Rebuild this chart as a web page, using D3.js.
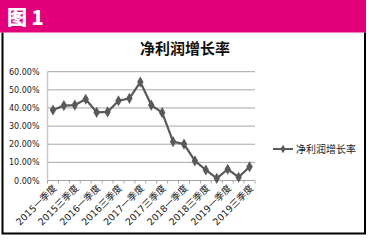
<!DOCTYPE html>
<html>
<head>
<meta charset="utf-8">
<script src="https://cdn.jsdelivr.net/npm/d3@7"></script>
<style>
  body { margin: 0; background: #fff; }
  svg { display: block; }
</style>
</head>
<body>
<div id="chart"></div>
<script>
// ---------------------------------------------------------
// DATA
// ---------------------------------------------------------
const years = ["2015", "2016", "2017", "2018", "2019"];
const quarters = ["一季度", "二季度", "三季度", "四季度"];
const categories = [];
years.forEach(y => quarters.forEach(q => categories.push(y + q)));
categories.length = 19;   // ends at 2019三季度

const growth = [38.9, 41.3, 41.6, 44.8, 37.6, 37.8, 44.0, 45.3, 54.3, 41.6,
                37.4, 21.4, 20.1, 10.8, 5.8, 1.2, 6.2, 1.8, 7.6];
const yTicks = [0, 10, 20, 30, 40, 50, 60];
const seriesName = "净利润增长率";

// ---------------------------------------------------------
// LAYOUT
// ---------------------------------------------------------
const width = 369, height = 240;
const plot = { left: 47.5, right: 255, top: 71.7, bottom: 180.5 };
const font = "'DejaVu Sans', 'Noto Sans CJK SC', sans-serif";
const cjk = "'Noto Sans CJK SC', sans-serif";

const svg = d3.select("#chart").append("svg")
    .attr("width", width)
    .attr("height", height);

// header bar
svg.append("rect")
    .attr("x", 0).attr("y", 0)
    .attr("width", 366).attr("height", 32.5)
    .attr("fill", "#e2007a");

svg.append("text")
    .attr("x", 7).attr("y", 25)
    .attr("fill", "#fff")
    .style("font-family", cjk)
    .style("font-weight", "900")
    .style("font-size", "20px")
    .text("图 1");

// frame
svg.append("path")
    .attr("d", "M2.5,32.5 V233.5 H365 V32.5")
    .attr("fill", "none")
    .attr("stroke", "#000")
    .attr("stroke-width", 2);

// title
svg.append("text")
    .attr("x", 185).attr("y", 54)
    .attr("text-anchor", "middle")
    .attr("fill", "#111")
    .style("font-family", cjk)
    .style("font-weight", "700")
    .style("font-size", "15px")
    .text(seriesName);

// ---------------------------------------------------------
// SCALES
// ---------------------------------------------------------
const x = d3.scaleBand()
    .domain(categories)
    .range([plot.left, plot.right]);

const y = d3.scaleLinear()
    .domain([0, 60])
    .range([plot.bottom, plot.top]);

// gridlines
svg.append("g")
    .selectAll("line")
    .data(yTicks.filter(d => d > 0))
    .enter().append("line")
    .attr("x1", plot.left).attr("x2", plot.right)
    .attr("y1", d => y(d)).attr("y2", d => y(d))
    .attr("stroke", "#a6a6a6")
    .attr("stroke-width", 1);

// y labels
svg.append("g")
    .selectAll("text")
    .data(yTicks)
    .enter().append("text")
    .attr("x", 39.5)
    .attr("y", d => y(d) + 3)
    .attr("text-anchor", "end")
    .attr("fill", "#222")
    .style("font-family", font)
    .style("font-size", "8px")
    .text(d => d3.format(".2f")(d) + "%");

// y axis line
svg.append("line")
    .attr("x1", plot.left).attr("x2", plot.left)
    .attr("y1", plot.top).attr("y2", plot.bottom)
    .attr("stroke", "#c8c8c8")
    .attr("stroke-width", 1.5);

// x axis
const xAxis = svg.append("g")
    .attr("transform", `translate(0,${plot.bottom})`);

xAxis.append("line")
    .attr("x1", plot.left).attr("x2", plot.right)
    .attr("stroke", "#a6a6a6");

xAxis.selectAll("line.tick")
    .data(categories.concat([null]))
    .enter().append("line")
    .attr("class", "tick")
    .attr("x1", (d, i) => plot.left + i * x.bandwidth())
    .attr("x2", (d, i) => plot.left + i * x.bandwidth())
    .attr("y1", 0).attr("y2", 3)
    .attr("stroke", "#a6a6a6");

xAxis.selectAll("text")
    .data(categories.filter((d, i) => i % 2 === 0))
    .enter().append("text")
    .attr("transform", d => `translate(${x(d) + x.bandwidth() / 2 + 2},6) rotate(-45)`)
    .attr("text-anchor", "end")
    .attr("dy", "0.35em")
    .attr("fill", "#222")
    .style("font-family", font)
    .style("font-size", "9.5px")
    .text(d => d);

// ---------------------------------------------------------
// SERIES
// ---------------------------------------------------------
const cx = (d, i) => x(categories[i]) + x.bandwidth() / 2;

const line = d3.line()
    .x((d, i) => cx(d, i))
    .y(d => y(d));

svg.append("path")
    .datum(growth)
    .attr("d", line)
    .attr("fill", "none")
    .attr("stroke", "#595959")
    .attr("stroke-width", 2.2)
    .attr("stroke-linejoin", "round");

const diamond = d3.symbol().type(d3.symbolDiamond).size(36);

svg.append("g")
    .selectAll("path")
    .data(growth)
    .enter().append("path")
    .attr("d", diamond)
    .attr("transform", (d, i) => `translate(${cx(d, i)},${y(d)})`)
    .attr("fill", "#595959");

// ---------------------------------------------------------
// LEGEND
// ---------------------------------------------------------
const legend = svg.append("g").attr("transform", "translate(273,149)");

legend.append("line")
    .attr("x1", 0).attr("x2", 20)
    .attr("stroke", "#595959")
    .attr("stroke-width", 2);

legend.append("path")
    .attr("d", d3.symbol().type(d3.symbolDiamond).size(22))
    .attr("transform", "translate(10,0)")
    .attr("fill", "#595959");

legend.append("text")
    .attr("x", 23).attr("y", 3.5)
    .attr("fill", "#222")
    .style("font-family", cjk)
    .style("font-size", "10px")
    .text(seriesName);
</script>
</body>
</html>
